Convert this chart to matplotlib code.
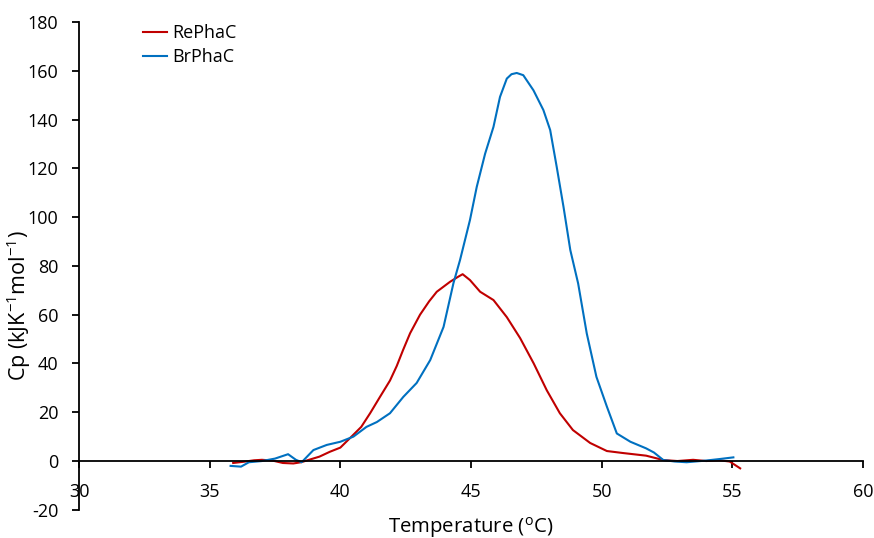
import matplotlib
matplotlib.use("Agg")
import matplotlib.pyplot as plt

plt.rcParams['font.family'] = ['Open Sans', 'DejaVu Sans']
plt.rcParams['mathtext.fontset'] = 'custom'
plt.rcParams['mathtext.rm'] = 'Open Sans'
plt.rcParams['mathtext.it'] = 'Open Sans'
plt.rcParams['axes.unicode_minus'] = False

re_T = [35.9, 36.3, 36.7, 37.0, 37.4, 37.8, 38.2, 38.5, 38.8, 39.2, 39.6, 40.0, 40.37, 40.8,
        41.14, 41.5, 41.9, 42.16, 42.4, 42.67, 43.05, 43.4, 43.69, 44.2, 44.5, 44.68, 44.96,
        45.35, 45.86, 46.37, 46.88, 47.4, 47.9, 48.4, 48.9, 49.56, 50.2, 50.8, 51.7, 52.36,
        52.9, 53.5, 54.0, 54.5, 54.9, 55.3]
re_Cp = [-0.8, -0.3, 0.3, 0.5, 0.2, -0.8, -1.0, -0.5, 0.5, 1.8, 3.8, 5.5, 9.4, 14.0,
         19.6, 26.0, 33.0, 39.0, 45.5, 52.4, 60.0, 65.5, 69.4, 73.5, 75.5, 76.6, 74.2,
         69.4, 66.0, 59.0, 50.4, 40.0, 29.0, 19.6, 12.7, 7.4, 4.1, 3.3, 2.2, 0.4,
         0.0, 0.5, 0.0, 0.3, -0.2, -3.0]

br_T = [35.8, 36.2, 36.5, 37.0, 37.5, 38.0, 38.3, 38.52, 38.97, 39.48, 40.0, 40.5, 41.0,
        41.4, 41.9, 42.41, 42.92, 43.44, 43.95, 44.33, 44.58, 44.96, 45.22, 45.54, 45.86,
        46.11, 46.37, 46.55, 46.75, 47.0, 47.39, 47.77, 48.03, 48.28, 48.54, 48.8, 49.1,
        49.43, 49.8, 50.2, 50.58, 51.1, 51.7, 52.0, 52.36, 52.8, 53.25, 54.0, 54.5, 55.04]
br_Cp = [-2.0, -2.3, -0.5, 0.0, 1.0, 2.8, 0.5, -0.5, 4.5, 6.6, 7.9, 10.0, 14.0,
         16.0, 19.6, 26.3, 32.0, 41.4, 55.0, 73.0, 82.4, 98.8, 112.4, 126.0, 137.0,
         149.3, 156.8, 158.6, 159.1, 158.2, 152.0, 143.9, 135.7, 120.6, 104.2, 86.5, 72.8,
         52.3, 34.5, 22.3, 11.3, 7.9, 5.2, 3.5, 0.4, -0.2, -0.5, 0.2, 0.8, 1.5]

x_ticks = [30, 35, 40, 45, 50, 55, 60]
y_ticks = [-20, 0, 20, 40, 60, 80, 100, 120, 140, 160, 180]

fig = plt.figure(figsize=(8.74, 5.38), dpi=100)
ax = fig.add_axes([0.0904, 0.0524, 0.897, 0.9067])

ax.plot(re_T, re_Cp, color='#C00000', lw=1.5, label='RePhaC')
ax.plot(br_T, br_Cp, color='#0070C0', lw=1.5, label='BrPhaC')

ax.set_xlim(30, 60)
ax.set_ylim(-20, 180)
ax.set_xticks(x_ticks)
ax.set_yticks(y_ticks)

ax.spines['top'].set_visible(False)
ax.spines['right'].set_visible(False)
ax.spines['bottom'].set_position(('data', 0))
for s in ('left', 'bottom'):
    ax.spines[s].set_linewidth(1.3)
    ax.spines[s].set_color('black')

ax.tick_params(axis='x', direction='out', length=5, width=1.3, pad=11, labelsize=13)
ax.tick_params(axis='y', direction='out', length=5, width=1.3, pad=10, labelsize=13)

fig.text(19 / 874, 1 - 306 / 538, 'Cp (kJK$^{-1}$mol$^{-1}$)', rotation=90,
         ha='center', va='center', fontsize=15.5)
fig.text(471 / 874, 1 - 527 / 538, 'Temperature ($^{\\mathrm{o}}$C)',
         ha='center', va='center', fontsize=14.7)

ax.legend(loc='upper left', bbox_to_anchor=(143 / 874, 1 - 24 / 538), bbox_transform=fig.transFigure,
          frameon=False, fontsize=13, handlelength=1.35, handletextpad=0.25,
          labelspacing=0.35, borderaxespad=0, borderpad=0)

fig.savefig('out.png', dpi=100)
